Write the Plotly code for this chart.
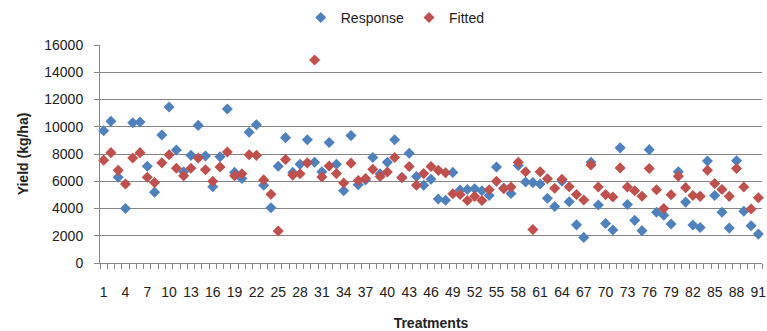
import plotly.graph_objects as go

treatments = list(range(1, 92))

response = [
    9700, 10400, 6300, 4000, 10300, 10350, 7100, 5200, 9400, 11450,
    8300, 6700, 7900, 10100, 7850, 5600, 7800, 11300, 6650, 6200,
    9600, 10150, 5700, 4050, 7100, 9200, 6650, 7250, 9050, 7400,
    6700, 8850, 7250, 5300, 9350, 5750, 6100, 7750, 6550, 7400,
    9050, 6300, 8050, 6350, 5700, 6150, 4700, 4600, 6650, 5350,
    5400, 5450, 5300, 4950, 7050, 5500, 5100, 7150, 5950, 5900,
    5800, 4750, 4150, 6000, 4500, 2800, 1880, 7400, 4250, 2900,
    2420, 8450, 4300, 3130, 2370, 8320, 3730, 3500, 2860, 6690,
    4470, 2790, 2610, 7480, 4960, 3730, 2560, 7500, 3800, 2740,
    2120,
]

fitted = [
    7550, 8100, 6800, 5800, 7700, 8100, 6300, 5900, 7350, 7950,
    6950, 6400, 6950, 7700, 6850, 6000, 7050, 8150, 6400, 6550,
    7950, 7900, 6100, 5050, 2350, 7600, 6450, 6550, 7350, 14900,
    6320, 7120, 6560, 5870, 7330, 6060, 6200, 6880, 6350, 6680,
    7740, 6260, 7080, 5700, 6560, 7080, 6800, 6620, 5080, 5030,
    4590, 4890, 4590, 5380, 6000, 5450, 5570, 7400, 6700, 2450,
    6700, 6180, 5480, 6150, 5600, 5030, 4620, 7200, 5575, 5020,
    4840, 6980, 5575, 5300, 4900, 6930, 5380, 4000, 5010, 6370,
    5530, 4960, 4890, 6810, 5830, 5400, 4890, 6940, 5580, 3970,
    4790,
]

x_tick_labels = list(range(1, 92, 3))
y_tick_values = list(range(0, 16001, 2000))

FONT = "Liberation Sans"
BLUE = "#4F81BD"
RED = "#C0504D"

fig = go.Figure()
fig.add_trace(go.Scatter(
    x=treatments, y=response, mode="markers", name="Response", cliponaxis=False,
    marker=dict(symbol="diamond", size=8.5, color=BLUE, line=dict(width=0)),
))
fig.add_trace(go.Scatter(
    x=treatments, y=fitted, mode="markers", name="Fitted", cliponaxis=False,
    marker=dict(symbol="diamond", size=8.5, color=RED, line=dict(width=0)),
))

fig.update_layout(
    width=767, height=331,
    margin=dict(l=100, r=5, t=45, b=68),
    plot_bgcolor="white", paper_bgcolor="white",
    font=dict(family=FONT, size=14, color="#222222"),
    showlegend=True,
    legend=dict(orientation="h", x=0.446, xanchor="center", y=0.994, yanchor="top",
                yref="container", font=dict(size=14), itemwidth=30, tracegroupgap=0,
                bgcolor="rgba(0,0,0,0)"),
    xaxis=dict(
        range=[0.5, 91.5], tickmode="array", tickvals=x_tick_labels,
        ticktext=[str(v) for v in x_tick_labels], automargin=False,
        ticks="", showgrid=False, zeroline=False,
        showline=True, linecolor="#868686", linewidth=1,
        ticklabelstandoff=16, ticklabeloverflow="allow",
        minor=dict(tickmode="array", tickvals=[i + 0.5 for i in range(0, 92)],
                   ticks="outside", ticklen=5, tickcolor="#868686", showgrid=False),
        title=dict(text="<b>Treatments</b>", font=dict(size=14), standoff=21),
        tickfont=dict(size=14),
    ),
    yaxis=dict(
        range=[0, 16000], tickmode="array", tickvals=y_tick_values,
        ticktext=[str(v) for v in y_tick_values], automargin=False,
        showgrid=True, gridcolor="#868686", gridwidth=1, zeroline=False,
        showline=True, linecolor="#868686", linewidth=1,
        ticks="outside", ticklen=5, tickcolor="#868686",
        ticklabelstandoff=8,
        title=dict(text="<b>Yield (kg/ha)</b>", font=dict(size=14), standoff=12),
        tickfont=dict(size=14),
    ),
)

fig.write_html("out.html", config={"displayModeBar": False},
               post_script="document.body.style.margin='0';")
